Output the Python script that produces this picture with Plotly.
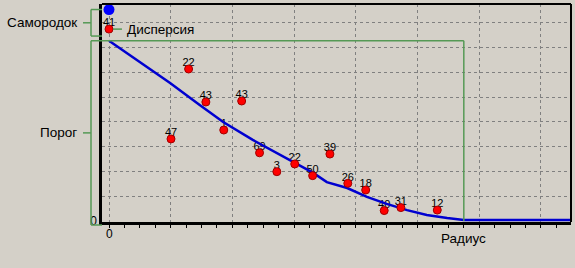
import plotly.graph_objects as go

# ---- data ----
LAG = [1.005, 1.29, 1.57, 1.86, 2.15, 2.44, 2.72, 3.01, 3.30, 3.58, 3.87, 4.16, 4.46, 4.73, 5.32]
COV = [3.31, 6.13, 4.80, 3.67, 4.84, 2.75, 1.99, 2.30, 1.83, 2.70, 1.52, 1.25, 0.42, 0.54, 0.44]
PAIRS = ["47", "22", "43", "1", "43", "69", "3", "22", "50", "39", "26", "18", "40", "31", "12"]

VAR_X = [0.0]
VAR_Y = [7.74]
VAR_LABEL = ["41"]

NUGGET_X = [0.0]
NUGGET_TOP = 8.53
NUGGET_BOTTOM = 7.46
SILL = 7.27
RANGE = 5.75

MODEL_X = [0.0, 0.99, 1.47, 1.85, 2.33, 2.93, 3.31, 3.53, 3.86, 4.18, 4.50, 4.83, 5.15, 5.48, 5.75, 7.49]
MODEL_Y = [7.27, 5.57, 4.68, 3.99, 3.27, 2.46, 1.94, 1.57, 1.33, 0.97, 0.69, 0.44, 0.24, 0.12, 0.04, 0.04]

X_TICKS = [0, 1, 2, 3, 4, 5, 6, 7]
X_ZERO_LABEL = "0"
Y_TICKS = [0, 1, 2, 3, 4, 5, 6, 7, 8]
Y_TICKTEXT = ["0", "", "", "", "", "", "", "", ""]

X_RANGE = [-0.1134, 7.487]
Y_RANGE = [-0.0403, 8.753]

BG = "#d4d0c8"
GREEN = "#559955"
FONT = "Liberation Sans, Arial, sans-serif"


def yp(v):
    return (v - Y_RANGE[0]) / (Y_RANGE[1] - Y_RANGE[0])


def xp(v):
    return (v - X_RANGE[0]) / (X_RANGE[1] - X_RANGE[0])


fig = go.Figure()

# point labels (under the model line)
fig.add_trace(go.Scatter(x=LAG + VAR_X, y=COV + VAR_Y, mode="text", text=PAIRS + VAR_LABEL,
                         textposition="top center",
                         textfont=dict(family=FONT, size=11, color="black"),
                         hoverinfo="skip", showlegend=False))
# model line
fig.add_trace(go.Scatter(x=MODEL_X, y=MODEL_Y, mode="lines",
                         line=dict(color="#0000d0", width=2.5), showlegend=False))
# experimental points
fig.add_trace(go.Scatter(x=LAG + VAR_X, y=COV + VAR_Y, mode="markers",
                         marker=dict(size=8, color="#ff0000", line=dict(color="#a00000", width=1)),
                         showlegend=False))
# nugget point
fig.add_trace(go.Scatter(x=NUGGET_X, y=[NUGGET_TOP], mode="markers",
                         marker=dict(size=11, color="#0000ff"), showlegend=False))

BR = -0.02345   # bracket vertical line (paper x)
BT = -0.0405    # bracket label tick start
SILL_BOTTOM = yp(Y_RANGE[0]) - 0.0138

shapes = []
def seg(x0, y0, x1, y1, xref="paper", yref="paper", color=GREEN, width=1.5):
    shapes.append(dict(type="line", xref=xref, yref=yref, x0=x0, y0=y0, x1=x1, y1=y1,
                       line=dict(color=color, width=width)))

# nugget bracket
seg(BR, yp(NUGGET_TOP), BR, yp(NUGGET_BOTTOM))
seg(BR, yp(NUGGET_TOP), 0, yp(NUGGET_TOP))
seg(BR, yp(NUGGET_BOTTOM), 0, yp(NUGGET_BOTTOM))
nug_mid = (yp(NUGGET_TOP) + yp(NUGGET_BOTTOM)) / 2
seg(BT, nug_mid, BR, nug_mid)
# sill bracket
seg(BR, yp(SILL), BR, SILL_BOTTOM)
seg(BR, yp(SILL), xp(RANGE), yp(SILL))
seg(BR, SILL_BOTTOM, 0, SILL_BOTTOM)
sill_mid = (yp(SILL) + SILL_BOTTOM) / 2
seg(BT, sill_mid, BR, sill_mid)
# range vertical
seg(RANGE, 0, RANGE, SILL, xref="x", yref="y")
# variance tick
seg(0.065, VAR_Y[0], 0.21, VAR_Y[0], xref="x", yref="y")
# top / right border
seg(0, 1, 1, 1, color="black", width=2)
seg(1, 0, 1, 1, color="black", width=2)

annotations = [
    dict(text="Самородок", xref="paper", yref="paper", x=-0.049, y=nug_mid,
         xanchor="right", yanchor="middle", showarrow=False),
    dict(text="Порог", xref="paper", yref="paper", x=-0.049, y=sill_mid,
         xanchor="right", yanchor="middle", showarrow=False),
    dict(text="Дисперсия", xref="x", yref="y", x=0.26, y=VAR_Y[0],
         xanchor="left", yanchor="middle", showarrow=False),
    dict(text="Радиус", xref="x", yref="paper", x=RANGE, y=0,
         xanchor="center", yanchor="top", yshift=-7, showarrow=False),
]
for a in annotations:
    a["font"] = dict(family=FONT, size=13.5, color="black")
annotations.append(dict(text=X_ZERO_LABEL, xref="x", yref="paper", x=X_TICKS[0], y=0,
                        xanchor="center", yanchor="top", yshift=-3, showarrow=False,
                        font=dict(family=FONT, size=12, color="black")))

fig.update_layout(
    width=575, height=268,
    margin=dict(l=102, r=4, t=4, b=46),
    paper_bgcolor=BG, plot_bgcolor=BG,
    shapes=shapes, annotations=annotations,
    font=dict(family=FONT, size=12, color="black"),
    xaxis=dict(range=X_RANGE, tickmode="array", tickvals=X_TICKS, showticklabels=False,
               showgrid=True, gridcolor="#808080", gridwidth=1, griddash="3px,3px",
               ticks="outside", ticklen=3, tickcolor="black", tickwidth=1,
               minor=dict(tickmode="linear", tick0=0, dtick=0.25, ticks="outside", ticklen=3,
                          tickcolor="black", tickwidth=1, showgrid=False),
               showline=True, linecolor="black", linewidth=2.5, zeroline=False),
    yaxis=dict(range=Y_RANGE, tickmode="array", tickvals=Y_TICKS, ticktext=Y_TICKTEXT,
               showgrid=True, gridcolor="#808080", gridwidth=1, griddash="3px,3px",
               ticks="", showline=True, linecolor="black", linewidth=2.5, zeroline=False,
               tickfont=dict(family=FONT, size=12, color="black")),
)

fig.write_html("out.html")
